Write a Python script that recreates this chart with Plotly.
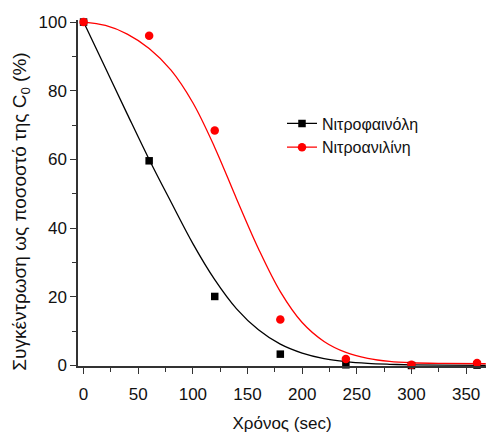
import plotly.graph_objects as go

# Measured data
time_s = [0, 60, 120, 180, 240, 300, 360]
nitrophenol = [100, 59.6, 20.1, 3.3, 0.2, 0.0, 0.1]
nitroaniline = [100, 96.0, 68.4, 13.4, 1.9, 0.2, 0.7]

# Fitted curves
fit_t = [0, 20, 40, 60, 80, 100, 120, 140, 160, 180, 200, 220, 240, 260, 280, 300, 330, 368]
fit_phenol = [100, 86.6, 73.2, 60, 47.6, 35.5, 25, 16.5, 10.4, 6.2, 3.6, 2.0, 1.1, 0.6, 0.35, 0.2, 0.1, 0.05]
fit_aniline = [100, 99, 96.5, 92.3, 86, 76.5, 63.5, 48.5, 34, 21.5, 12.5, 7, 3.8, 2.1, 1.2, 0.8, 0.6, 0.5]

series_names = ["Νιτροφαινόλη", "Νιτροανιλίνη"]
x_ticks = [0, 50, 100, 150, 200, 250, 300, 350]
y_ticks = [0, 20, 40, 60, 80, 100]
x_title = "Χρόνος (sec)"
y_title = "Συγκέντρωση ως ποσοστό της C<sub>0</sub> (%)"

BLACK = "#000000"
RED = "#ff0000"
FONT = "Arial, Liberation Sans, sans-serif"

fig = go.Figure()
fig.add_trace(go.Scatter(x=fit_t, y=fit_phenol, mode="lines", line=dict(color=BLACK, width=1.3, shape="spline", smoothing=1.0),
                         showlegend=False, hoverinfo="skip"))
fig.add_trace(go.Scatter(x=fit_t, y=fit_aniline, mode="lines", line=dict(color=RED, width=1.3, shape="spline", smoothing=1.0),
                         showlegend=False, hoverinfo="skip"))
fig.add_trace(go.Scatter(x=time_s, y=nitrophenol, mode="markers", marker=dict(symbol="square", size=7.5, color=BLACK),
                         showlegend=False, cliponaxis=False))
fig.add_trace(go.Scatter(x=time_s, y=nitroaniline, mode="markers", marker=dict(symbol="circle", size=8.5, color=RED),
                         showlegend=False, cliponaxis=False))
# legend entries
fig.add_trace(go.Scatter(x=[None], y=[None], mode="lines+markers", name=series_names[0],
                         line=dict(color=BLACK, width=1.3), marker=dict(symbol="square", size=7.5, color=BLACK)))
fig.add_trace(go.Scatter(x=[None], y=[None], mode="lines+markers", name=series_names[1],
                         line=dict(color=RED, width=1.3), marker=dict(symbol="circle", size=8.5, color=RED)))

axis_common = dict(showline=True, linecolor="#333333", linewidth=1.5, ticks="outside", ticklen=6, tickwidth=1.3,
                   tickcolor="#333333", showgrid=False, zeroline=False, mirror=False, automargin=False,
                   tickfont=dict(family=FONT, size=17, color="#111111"))

fig.update_layout(
    width=486, height=434,
    margin=dict(l=78, r=0, t=20, b=67.5),
    paper_bgcolor="white", plot_bgcolor="white",
    font=dict(family=FONT, size=16, color="#111111"),
    xaxis=dict(range=[-5.1, 368.2], tickvals=x_ticks, ticklabelstandoff=6,
               minor=dict(dtick=25, ticks="outside", ticklen=4, tickcolor="#333333", tickwidth=1.2),
               title=dict(text=x_title, font=dict(family=FONT, size=17), standoff=14),
               **axis_common),
    yaxis=dict(range=[-0.15, 100.6], tickvals=y_ticks,
               minor=dict(dtick=10, ticks="outside", ticklen=4, tickcolor="#333333", tickwidth=1.2),
               **axis_common),
    legend=dict(x=0.5, y=0.75, xanchor="left", yanchor="top", bgcolor="rgba(0,0,0,0)",
                font=dict(family=FONT, size=16, color="#111111"), tracegroupgap=0),
    annotations=[dict(text=y_title, textangle=-90, xref="paper", yref="paper",
                      x=-57 / 408, y=0.446, xanchor="center", yanchor="middle", showarrow=False,
                      font=dict(family=FONT, size=19, color="#111111"))],
)

fig.write_html("out.html", config={"displayModeBar": False},
               post_script="document.body.style.margin='0';document.body.style.padding='0';document.body.style.overflow='hidden';")
